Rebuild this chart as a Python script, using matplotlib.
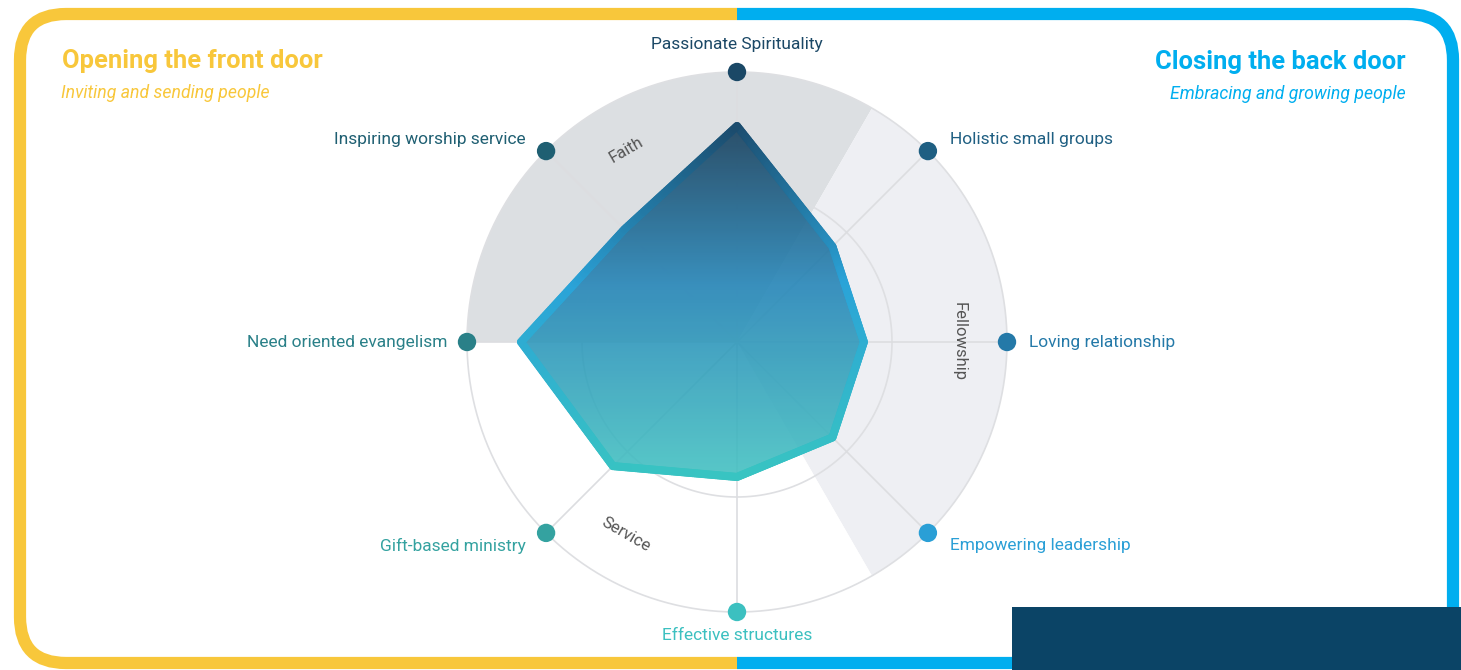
import numpy as np
import matplotlib
matplotlib.use('Agg')
import matplotlib.pyplot as plt
from matplotlib.patches import Polygon, FancyBboxPatch, Rectangle
from matplotlib.collections import LineCollection
from matplotlib.colors import LinearSegmentedColormap

plt.rcParams['font.family'] = ['Roboto', 'DejaVu Sans']

# data
labels = ['Passionate Spirituality', 'Holistic small groups', 'Loving relationship',
          'Empowering leadership', 'Effective structures', 'Gift-based ministry',
          'Need oriented evangelism', 'Inspiring worship service']
values = [80, 50, 47, 50, 50, 65, 80, 59]
dot_colors = ['#1b4866', '#1f5f82', '#2479a8', '#2a9fd6',
              '#3cc0c0', '#34a2a0', '#2a8088', '#1f5f72']
groups = ['Faith', 'Fellowship', 'Service']
group_start = [270, 30, 150]
group_colors = ['#dcdfe2', '#eeeff3', '#ffffff']

yellow = '#f8c73b'
blue = '#00aeef'

W, H = 1461, 670
cx, cy = 737, 342
R = 270
R_inner = 155

fig = plt.figure(figsize=(W / 100, H / 100), dpi=100)
ax = fig.add_axes([0, 0, 1, 1])
ax.set_xlim(0, W)
ax.set_ylim(H, 0)
ax.axis('off')


def pos(angle, r):
    a = np.radians(angle)
    return cx + r * np.sin(a), cy - r * np.cos(a)


n = len(labels)
angles = [i * 360 / n for i in range(n)]

# group sectors
for start, col in zip(group_start, group_colors):
    t = np.linspace(start, start + 120, 100)
    xs, ys = pos(t, R)
    pts = np.vstack([[cx, cy], np.column_stack([xs, ys])])
    ax.add_patch(Polygon(pts, closed=True, facecolor=col, edgecolor='none', zorder=1))

# grid
t = np.linspace(0, 360, 400)
for r in [R_inner, R]:
    xs, ys = pos(t, r)
    ax.plot(xs, ys, color='#dedfe2', lw=1.2, zorder=2)
for a in angles:
    x, y = pos(a, R)
    ax.plot([cx, x], [cy, y], color='#dcdde0', lw=1.2, zorder=2)

# group labels
for g, start in zip(groups, group_start):
    mid = (start + 60) % 360
    x, y = pos(mid, 222)
    rot = -mid if (mid <= 90 or mid >= 270) else 180 - mid
    ax.text(x, y, g, rotation=rot, ha='center', va='center', fontsize=12,
            color='#555555', zorder=3, rotation_mode='anchor')

# data polygon
r_vals = np.array(values) / 100 * R
px, py = pos(np.array(angles), r_vals)
poly_pts = np.column_stack([px, py])
clip = Polygon(poly_pts, closed=True, facecolor='none', edgecolor='none', transform=ax.transData)
ax.add_patch(clip)

fill_cmap = LinearSegmentedColormap.from_list('fill', [(0, '#173f5c'), (0.45, '#2686b8'), (1, '#45c2c2')])
ymin, ymax = py.min(), py.max()
grad = np.linspace(0, 1, 256).reshape(-1, 1)
im = ax.imshow(grad, cmap=fill_cmap, aspect='auto', extent=[px.min(), px.max(), ymax, ymin],
               alpha=0.9, zorder=3, interpolation='bicubic')
im.set_clip_path(clip)
ax.set_xlim(0, W)
ax.set_ylim(H, 0)

# gradient edge
edge_cmap = LinearSegmentedColormap.from_list('edge', [(0, '#1b4c6e'), (0.45, '#2aa3d8'), (1, '#38c4c2')])
closed = np.vstack([poly_pts, poly_pts[:1]])
segs = []
cvals = []
for i in range(n):
    p0, p1 = closed[i], closed[i + 1]
    s = np.linspace(0, 1, 60)
    line = p0 + (p1 - p0) * s[:, None]
    for j in range(len(line) - 1):
        segs.append([line[j], line[j + 1]])
        cvals.append(((line[j][1] + line[j + 1][1]) / 2 - ymin) / (ymax - ymin))
lc = LineCollection(segs, cmap=edge_cmap, linewidths=5.8, capstyle='round', joinstyle='round', zorder=4)
lc.set_array(np.array(cvals))
lc.set_clim(0, 1)
ax.add_collection(lc)

# axis dots and labels
dx, dy = pos(np.array(angles), R)
ax.scatter(dx, dy, s=175, c=dot_colors, zorder=5, linewidths=0)
for a, lab, col, x, y in zip(angles, labels, dot_colors, dx, dy):
    if a == 0:
        ax.text(x, y - 27, lab, ha='center', va='center', fontsize=12.5, color=col)
    elif a == 180:
        ax.text(x, y + 24, lab, ha='center', va='center', fontsize=12.5, color=col)
    elif a < 180:
        off = -12 if a < 90 else (13 if a > 90 else 0)
        ax.text(x + 22, y + off, lab, ha='left', va='center', fontsize=12.5, color=col)
    else:
        off = -12 if a > 270 else (13 if a < 270 else 0)
        ax.text(x - 20, y + off, lab, ha='right', va='center', fontsize=12.5, color=col)

# titles
ax.text(62, 61, 'Opening the front door', fontsize=18.4, fontweight='bold', color=yellow, ha='left', va='center')
ax.text(61, 93, 'Inviting and sending people', fontsize=12.7, style='italic', color=yellow, ha='left', va='center')
ax.text(1406, 62, 'Closing the back door', fontsize=18.4, fontweight='bold', color=blue, ha='right', va='center')
ax.text(1406, 94, 'Embracing and growing people', fontsize=12.7, style='italic', color=blue, ha='right', va='center')

# frame
for col, x0, w in [(yellow, 0, cx), (blue, cx, W - cx)]:
    fr = FancyBboxPatch((20, 14), 1433, 649, boxstyle='round,pad=0,rounding_size=46',
                        fill=False, edgecolor=col, lw=8.8, zorder=6)
    ax.add_patch(fr)
    cr = Rectangle((x0, 0), w, H, transform=ax.transData)
    fr.set_clip_path(cr)

ax.add_patch(Rectangle((1012, 607), W - 1012, H - 607, facecolor='#0b4466', edgecolor='none', zorder=7))

fig.savefig('out.png', dpi=100)
